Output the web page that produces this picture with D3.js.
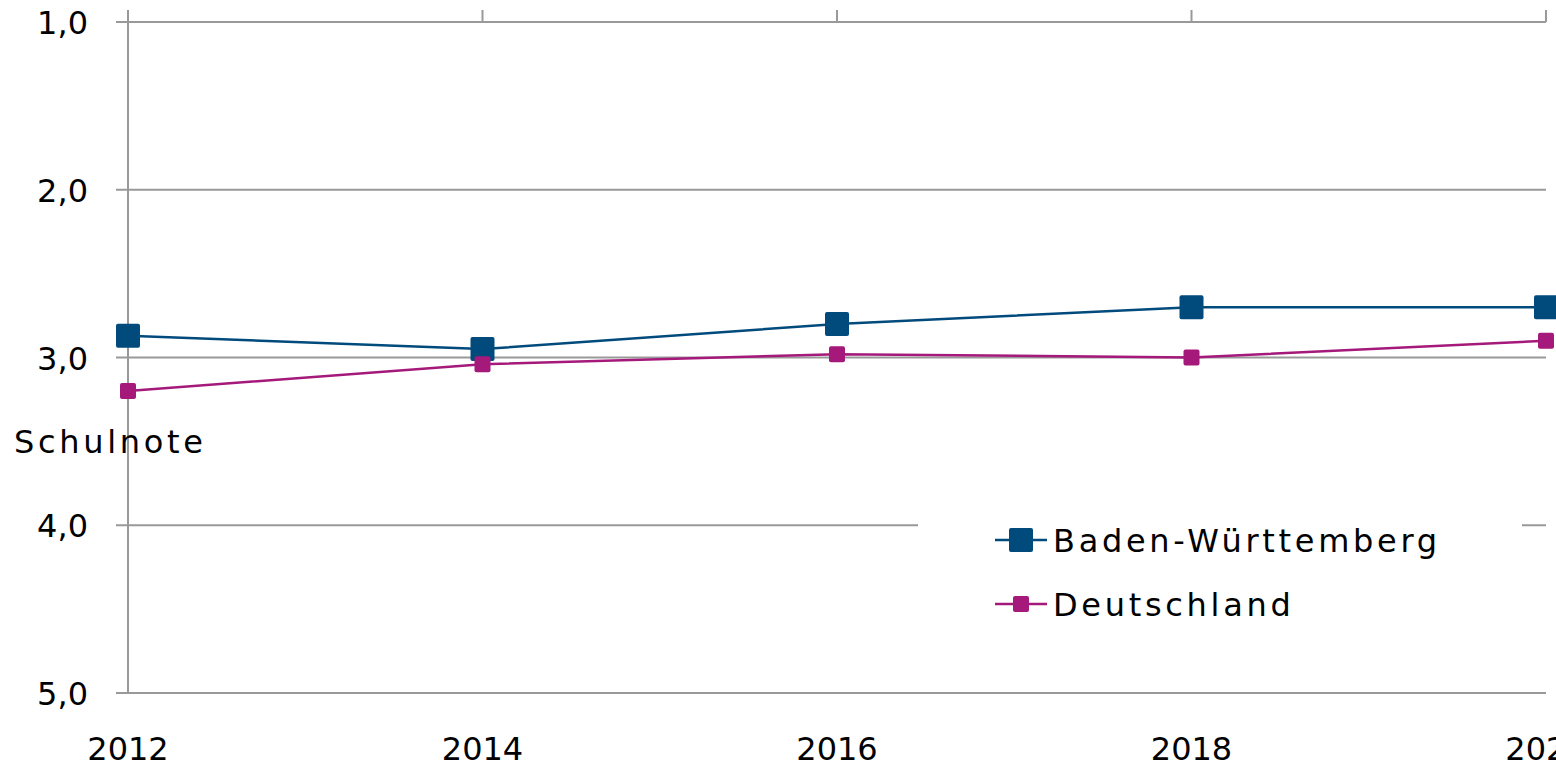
<!DOCTYPE html>
<html>
<head>
<meta charset="utf-8">
<script src="https://cdn.jsdelivr.net/npm/d3@7"></script>
<style>
  body { margin: 0; background: #fff; }
  svg { display: block; font-family: "DejaVu Sans", "Open Sans", sans-serif; }
</style>
</head>
<body>
<div id="chart"></div>
<script>
// Chart data
const years = [2012, 2014, 2016, 2018, 2020];
const bwValues = [2.87, 2.95, 2.8, 2.7, 2.7];
const deValues = [3.2, 3.04, 2.98, 3.0, 2.9];
const yTicks = [1, 2, 3, 4, 5];
const seriesNames = ['Baden-Württemberg', 'Deutschland'];

const width = 1556;
const height = 768;
const colors = { bw: '#004a7c', de: '#a4197a', grid: '#999999' };

const svg = d3.select('#chart')
    .append('svg')
    .attr('width', width)
    .attr('height', height);

const x = d3.scaleLinear().domain([2012, 2020]).range([128, 1546]);
const y = d3.scaleLinear().domain([1, 5]).range([22, 693]);

// Horizontal grid lines with left tick stubs
svg.append('g')
    .selectAll('line')
    .data(yTicks)
    .join('line')
    .attr('x1', 116)
    .attr('x2', x(2020))
    .attr('y1', d => y(d))
    .attr('y2', d => y(d))
    .attr('stroke', colors.grid)
    .attr('stroke-width', 2);

// Y tick labels
svg.append('g')
    .selectAll('text')
    .data(yTicks)
    .join('text')
    .attr('x', 88)
    .attr('y', d => y(d) + 12)
    .attr('text-anchor', 'end')
    .attr('font-size', '32px')
    .attr('fill', '#000')
    .text(d => d3.format('.1f')(d).replace('.', ','));

// Vertical axis line
svg.append('line')
    .attr('x1', x(2012)).attr('x2', x(2012))
    .attr('y1', 10).attr('y2', y(5))
    .attr('stroke', colors.grid)
    .attr('stroke-width', 2);

// Category ticks pointing up from the top line
svg.append('g')
    .selectAll('line')
    .data(years)
    .join('line')
    .attr('x1', d => x(d))
    .attr('x2', d => x(d))
    .attr('y1', 10)
    .attr('y2', y(1))
    .attr('stroke', colors.grid)
    .attr('stroke-width', 2);

// X labels below the chart (last one runs off the edge, as in the original)
svg.append('g')
    .selectAll('text')
    .data(years)
    .join('text')
    .attr('x', d => x(d))
    .attr('y', 760)
    .attr('text-anchor', 'middle')
    .attr('font-size', '32px')
    .attr('fill', '#000')
    .text(d => d);

// Axis title
svg.append('text')
    .attr('x', 14)
    .attr('y', 453)
    .attr('font-size', '32px')
    .attr('letter-spacing', '3.7px')
    .attr('fill', '#000')
    .text('Schulnote');

// Legend background (covers grid line)
svg.append('rect')
    .attr('x', 918)
    .attr('y', 505)
    .attr('width', 604)
    .attr('height', 125)
    .attr('fill', '#fff');

const line = d3.line()
    .x((d, i) => x(years[i]))
    .y(d => y(d));

function drawSeries(values, color, size) {
    svg.append('path')
        .datum(values)
        .attr('d', line)
        .attr('fill', 'none')
        .attr('stroke', color)
        .attr('stroke-width', 2.5);

    svg.append('g')
        .selectAll('rect')
        .data(values)
        .join('rect')
        .attr('x', (d, i) => x(years[i]) - size / 2)
        .attr('y', d => y(d) - size / 2)
        .attr('width', size)
        .attr('height', size)
        .attr('rx', 2)
        .attr('fill', color);
}

drawSeries(bwValues, colors.bw, 24);
drawSeries(deValues, colors.de, 16);

// Legend
const legend = [
    { name: seriesNames[0], color: colors.bw, size: 24, y: 540 },
    { name: seriesNames[1], color: colors.de, size: 16, y: 604 }
];

legend.forEach(item => {
    svg.append('line')
        .attr('x1', 995).attr('x2', 1047)
        .attr('y1', item.y).attr('y2', item.y)
        .attr('stroke', item.color)
        .attr('stroke-width', 2.5);
    svg.append('rect')
        .attr('x', 1021 - item.size / 2)
        .attr('y', item.y - item.size / 2)
        .attr('width', item.size)
        .attr('height', item.size)
        .attr('rx', 2)
        .attr('fill', item.color);
    svg.append('text')
        .attr('x', 1053)
        .attr('y', item.y + 12)
        .attr('font-size', '32px')
        .attr('letter-spacing', '3.7px')
        .attr('fill', '#000')
        .text(item.name);
});
</script>
</body>
</html>
